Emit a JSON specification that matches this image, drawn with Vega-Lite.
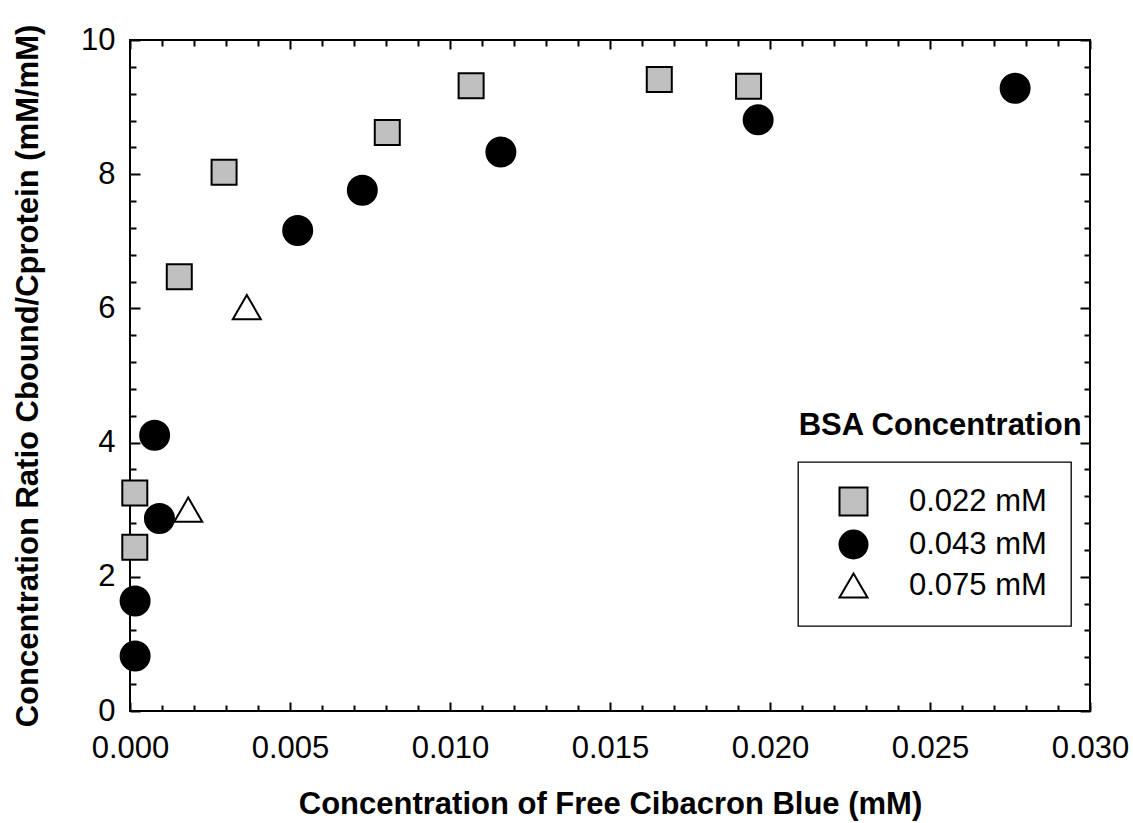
{
  "$schema": "https://vega.github.io/schema/vega-lite/v6.json",
  "width": 960,
  "height": 671,
  "autosize": {"type": "none"},
  "padding": {"left": 130, "top": 40, "right": 43, "bottom": 112},
  "background": "white",
  "config": {
    "font": "Liberation Sans",
    "view": {"stroke": "black", "strokeWidth": 2},
    "axis": {"grid": false, "domain": false, "labelColor": "black", "titleColor": "black", "tickColor": "black", "tickWidth": 2},
    "legend": {"strokeWidth": 1.3}
  },
  "data": {
    "values": [
      {"bsa": "0.022 mM", "free": 0.00015, "ratio": 3.25},
      {"bsa": "0.022 mM", "free": 0.00015, "ratio": 2.44},
      {"bsa": "0.022 mM", "free": 0.00154, "ratio": 6.47},
      {"bsa": "0.022 mM", "free": 0.00294, "ratio": 8.03},
      {"bsa": "0.022 mM", "free": 0.00804, "ratio": 8.62},
      {"bsa": "0.022 mM", "free": 0.01066, "ratio": 9.32},
      {"bsa": "0.022 mM", "free": 0.01654, "ratio": 9.41},
      {"bsa": "0.022 mM", "free": 0.01933, "ratio": 9.31},
      {"bsa": "0.043 mM", "free": 0.00016, "ratio": 0.82},
      {"bsa": "0.043 mM", "free": 0.00016, "ratio": 1.64},
      {"bsa": "0.043 mM", "free": 0.00077, "ratio": 4.11},
      {"bsa": "0.043 mM", "free": 0.00092, "ratio": 2.87},
      {"bsa": "0.043 mM", "free": 0.00524, "ratio": 7.16},
      {"bsa": "0.043 mM", "free": 0.00726, "ratio": 7.76},
      {"bsa": "0.043 mM", "free": 0.01159, "ratio": 8.33},
      {"bsa": "0.043 mM", "free": 0.01963, "ratio": 8.81},
      {"bsa": "0.043 mM", "free": 0.02766, "ratio": 9.28},
      {"bsa": "0.075 mM", "free": 0.00182, "ratio": 3.0},
      {"bsa": "0.075 mM", "free": 0.00365, "ratio": 6.02}
    ]
  },
  "layer": [
    {
      "transform": [{"filter": "datum.bsa === '0.022 mM'"}],
      "mark": {"type": "point", "filled": true, "strokeWidth": 2, "size": 625, "opacity": 1},
      "encoding": {
        "x": {
          "field": "free", "type": "quantitative",
          "scale": {"domain": [0, 0.03], "nice": false, "zero": false},
          "axis": {
            "orient": "bottom",
            "values": [0, 0.005, 0.01, 0.015, 0.02, 0.025, 0.03],
            "format": ".3f",
            "ticks": false,
            "labelFontSize": 31,
            "labelPadding": 22,
            "labelFlush": false,
            "labelOverlap": false,
            "title": "Concentration of Free Cibacron Blue (mM)",
            "titleFontSize": 31,
            "titleFontWeight": "bold",
            "titlePadding": 26
          }
        },
        "y": {
          "field": "ratio", "type": "quantitative",
          "scale": {"domain": [0, 10], "nice": false, "zero": false},
          "axis": {
            "orient": "left",
            "values": [0, 2, 4, 6, 8, 10],
            "ticks": false,
            "labelFontSize": 31,
            "labelPadding": 15,
            "labelFlush": false,
            "labelOverlap": false,
            "title": "Concentration Ratio Cbound/Cprotein (mM/mM)",
            "titleFontSize": 31,
            "titleFontWeight": "bold",
            "titlePadding": 36
          }
        },
        "shape": {
          "field": "bsa", "type": "nominal",
          "scale": {"domain": ["0.022 mM", "0.043 mM", "0.075 mM"], "range": ["square", "circle", "triangle-up"]},
          "legend": {"title": null, "orient": "none", "legendX": 668, "legendY": 422, "strokeColor": "black", "padding": 24, "symbolOffset": 16, "labelOffset": 40, "labelFontSize": 31, "labelColor": "black", "symbolSize": 784, "symbolStrokeWidth": 2, "rowPadding": 6}
        },
        "fill": {
          "field": "bsa", "type": "nominal",
          "scale": {"domain": ["0.022 mM", "0.043 mM", "0.075 mM"], "range": ["#c0c0c0", "black", "white"]},
          "legend": {"title": null, "orient": "none", "legendX": 668, "legendY": 422, "strokeColor": "black", "padding": 24, "symbolOffset": 16, "labelOffset": 40, "labelFontSize": 31, "labelColor": "black", "symbolSize": 784, "symbolStrokeWidth": 2, "rowPadding": 6}
        },
        "stroke": {
          "field": "bsa", "type": "nominal",
          "scale": {"domain": ["0.022 mM", "0.043 mM", "0.075 mM"], "range": ["black", "black", "black"]},
          "legend": {"title": null, "orient": "none", "legendX": 668, "legendY": 422, "strokeColor": "black", "padding": 24, "symbolOffset": 16, "labelOffset": 40, "labelFontSize": 31, "labelColor": "black", "symbolSize": 784, "symbolStrokeWidth": 2, "rowPadding": 6}
        }
      }
    },
    {
      "transform": [{"filter": "datum.bsa === '0.043 mM'"}],
      "mark": {"type": "point", "filled": true, "strokeWidth": 2, "size": 841, "opacity": 1},
      "encoding": {
        "x": {
          "field": "free", "type": "quantitative",
          "axis": {
            "orient": "bottom",
            "values": [0, 0.001, 0.002, 0.003, 0.004, 0.005, 0.006, 0.007, 0.008, 0.009, 0.01, 0.011, 0.012, 0.013, 0.014, 0.015, 0.016, 0.017, 0.018, 0.019, 0.02, 0.021, 0.022, 0.023, 0.024, 0.025, 0.026, 0.027, 0.028, 0.029, 0.03],
            "labels": false,
            "title": null,
            "tickSize": {"condition": {"test": "abs(datum.value*200 - round(datum.value*200)) < 0.01", "value": -9}, "value": -6}
          }
        },
        "y": {
          "field": "ratio", "type": "quantitative",
          "axis": {
            "orient": "left",
            "values": [0, 0.4, 0.8, 1.2, 1.6, 2, 2.4, 2.8, 3.2, 3.6, 4, 4.4, 4.8, 5.2, 5.6, 6, 6.4, 6.8, 7.2, 7.6, 8, 8.4, 8.8, 9.2, 9.6, 10],
            "labels": false,
            "title": null,
            "tickSize": {"condition": {"test": "abs(datum.value/2 - round(datum.value/2)) < 0.01", "value": -10}, "value": -6}
          }
        },
        "shape": {"field": "bsa", "type": "nominal"},
        "fill": {"field": "bsa", "type": "nominal"},
        "stroke": {"field": "bsa", "type": "nominal"}
      }
    },
    {
      "transform": [{"filter": "datum.bsa === '0.075 mM'"}],
      "mark": {"type": "point", "filled": true, "strokeWidth": 2, "size": 784, "opacity": 1},
      "encoding": {
        "x": {
          "field": "free", "type": "quantitative",
          "axis": {
            "orient": "top",
            "values": [0, 0.001, 0.002, 0.003, 0.004, 0.005, 0.006, 0.007, 0.008, 0.009, 0.01, 0.011, 0.012, 0.013, 0.014, 0.015, 0.016, 0.017, 0.018, 0.019, 0.02, 0.021, 0.022, 0.023, 0.024, 0.025, 0.026, 0.027, 0.028, 0.029, 0.03],
            "labels": false,
            "title": null,
            "tickSize": {"condition": {"test": "abs(datum.value*200 - round(datum.value*200)) < 0.01", "value": -9}, "value": -6}
          }
        },
        "y": {
          "field": "ratio", "type": "quantitative",
          "axis": {
            "orient": "right",
            "values": [0, 0.4, 0.8, 1.2, 1.6, 2, 2.4, 2.8, 3.2, 3.6, 4, 4.4, 4.8, 5.2, 5.6, 6, 6.4, 6.8, 7.2, 7.6, 8, 8.4, 8.8, 9.2, 9.6, 10],
            "labels": false,
            "title": null,
            "tickSize": {"condition": {"test": "abs(datum.value/2 - round(datum.value/2)) < 0.01", "value": -10}, "value": -6}
          }
        },
        "shape": {"field": "bsa", "type": "nominal"},
        "fill": {"field": "bsa", "type": "nominal"},
        "stroke": {"field": "bsa", "type": "nominal"}
      }
    },
    {
      "data": {"values": [{"label": "BSA Concentration"}]},
      "mark": {"type": "text", "align": "right", "baseline": "alphabetic", "fontSize": 31, "fontWeight": "bold", "color": "black"},
      "encoding": {
        "x": {"datum": 0.02974, "type": "quantitative", "axis": null},
        "y": {"datum": 4.11, "type": "quantitative", "axis": null},
        "text": {"field": "label", "type": "nominal"}
      }
    }
  ],
  "resolve": {"axis": {"x": "independent", "y": "independent"}}
}
